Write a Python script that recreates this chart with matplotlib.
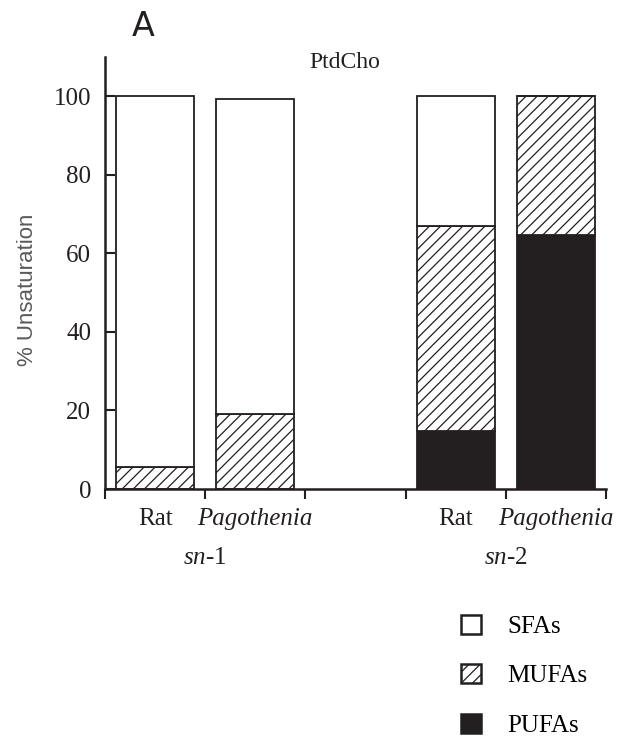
import matplotlib
matplotlib.use("Agg")
import matplotlib.pyplot as plt
from matplotlib.patches import Patch
import numpy as np

plt.rcParams['font.family'] = ['Liberation Serif', 'DejaVu Serif']
plt.rcParams['mathtext.fontset'] = 'custom'
plt.rcParams['mathtext.rm'] = 'Liberation Serif'
plt.rcParams['mathtext.it'] = 'Liberation Serif:italic'
plt.rcParams['hatch.linewidth'] = 0.9

# data
species = ['Rat', 'Pagothenia', 'Rat', 'Pagothenia']
positions_groups = ['sn-1', 'sn-1', 'sn-2', 'sn-2']
pufa = [0.0, 0.0, 14.8, 64.6]
mufa = [5.5, 19.0, 52.1, 35.4]
sfa = [94.5, 80.4, 33.1, 0.0]
series_names = ['SFAs', 'MUFAs', 'PUFAs']
yticks = [0, 20, 40, 60, 80, 100]

# slot positions: one empty slot between the sn-1 and sn-2 groups
x = np.array([0, 1, 3, 4])

ink = '#231f20'
fig = plt.figure(figsize=(6.25, 7.43), dpi=100)
ax = fig.add_axes([105/625, 1-489/743, (606-105)/625, (489-57)/743])

w = 0.78
ax.bar(x, pufa, w, color=ink, edgecolor=ink, linewidth=1.3)
ax.bar(x, mufa, w, bottom=pufa, color='white', edgecolor=ink, hatch='///', linewidth=1.3)
bottom2 = np.array(pufa) + np.array(mufa)
ax.bar(x, sfa, w, bottom=bottom2, color='white', edgecolor=ink, linewidth=1.3)

ax.set_xlim(-0.5, 4.5)
ax.set_ylim(0, 110)
ax.set_yticks(yticks)
ax.tick_params(axis='y', direction='in', length=7, width=1.5, labelsize=18, pad=10, colors=ink)
ax.set_xticks(np.arange(-0.5, 5.0, 1.0))
ax.set_xticklabels([])
ax.tick_params(axis='x', direction='out', length=7, width=1.5, colors=ink)
for s in ['top', 'right']:
    ax.spines[s].set_visible(False)
for s in ['left', 'bottom']:
    ax.spines[s].set_linewidth(1.8)
    ax.spines[s].set_color(ink)

trans = ax.get_xaxis_transform()
for xi, sp in zip(x, species):
    ax.text(xi, -0.069, sp, transform=trans, ha='center', va='center', fontsize=18,
            style='italic' if sp == 'Pagothenia' else 'normal', color=ink)
for g in ['sn-1', 'sn-2']:
    xs = [xi for xi, gg in zip(x, positions_groups) if gg == g]
    lab = '$sn$-' + g.split('-')[1]
    ax.text(np.mean(xs), -0.16, lab, transform=trans, ha='center', va='center', fontsize=18, color=ink)

ax.set_ylabel('% Unsaturation', fontsize=16, color='#5a5a5a', family='Liberation Sans')
ax.yaxis.set_label_coords(-0.134, 0.46)
ax.text(0.479, 0.988, 'PtdCho', transform=ax.transAxes, ha='center', va='center', fontsize=17, color=ink)
fig.text(143/625, 1-27/743, 'A', fontsize=24, family='DejaVu Sans', ha='center', va='center', color=ink)

handles = [Patch(facecolor='white', edgecolor=ink, linewidth=1.8),
           Patch(facecolor='white', edgecolor=ink, hatch='///', linewidth=1.8),
           Patch(facecolor=ink, edgecolor=ink, linewidth=1.8)]
fig.legend(handles, series_names, loc='upper left', bbox_to_anchor=(438.5/625, 1-592/743),
           frameon=False, fontsize=18, handlelength=0.8, handleheight=0.8,
           labelspacing=1.05, handletextpad=1.04)

fig.savefig('out.png', dpi=100)
